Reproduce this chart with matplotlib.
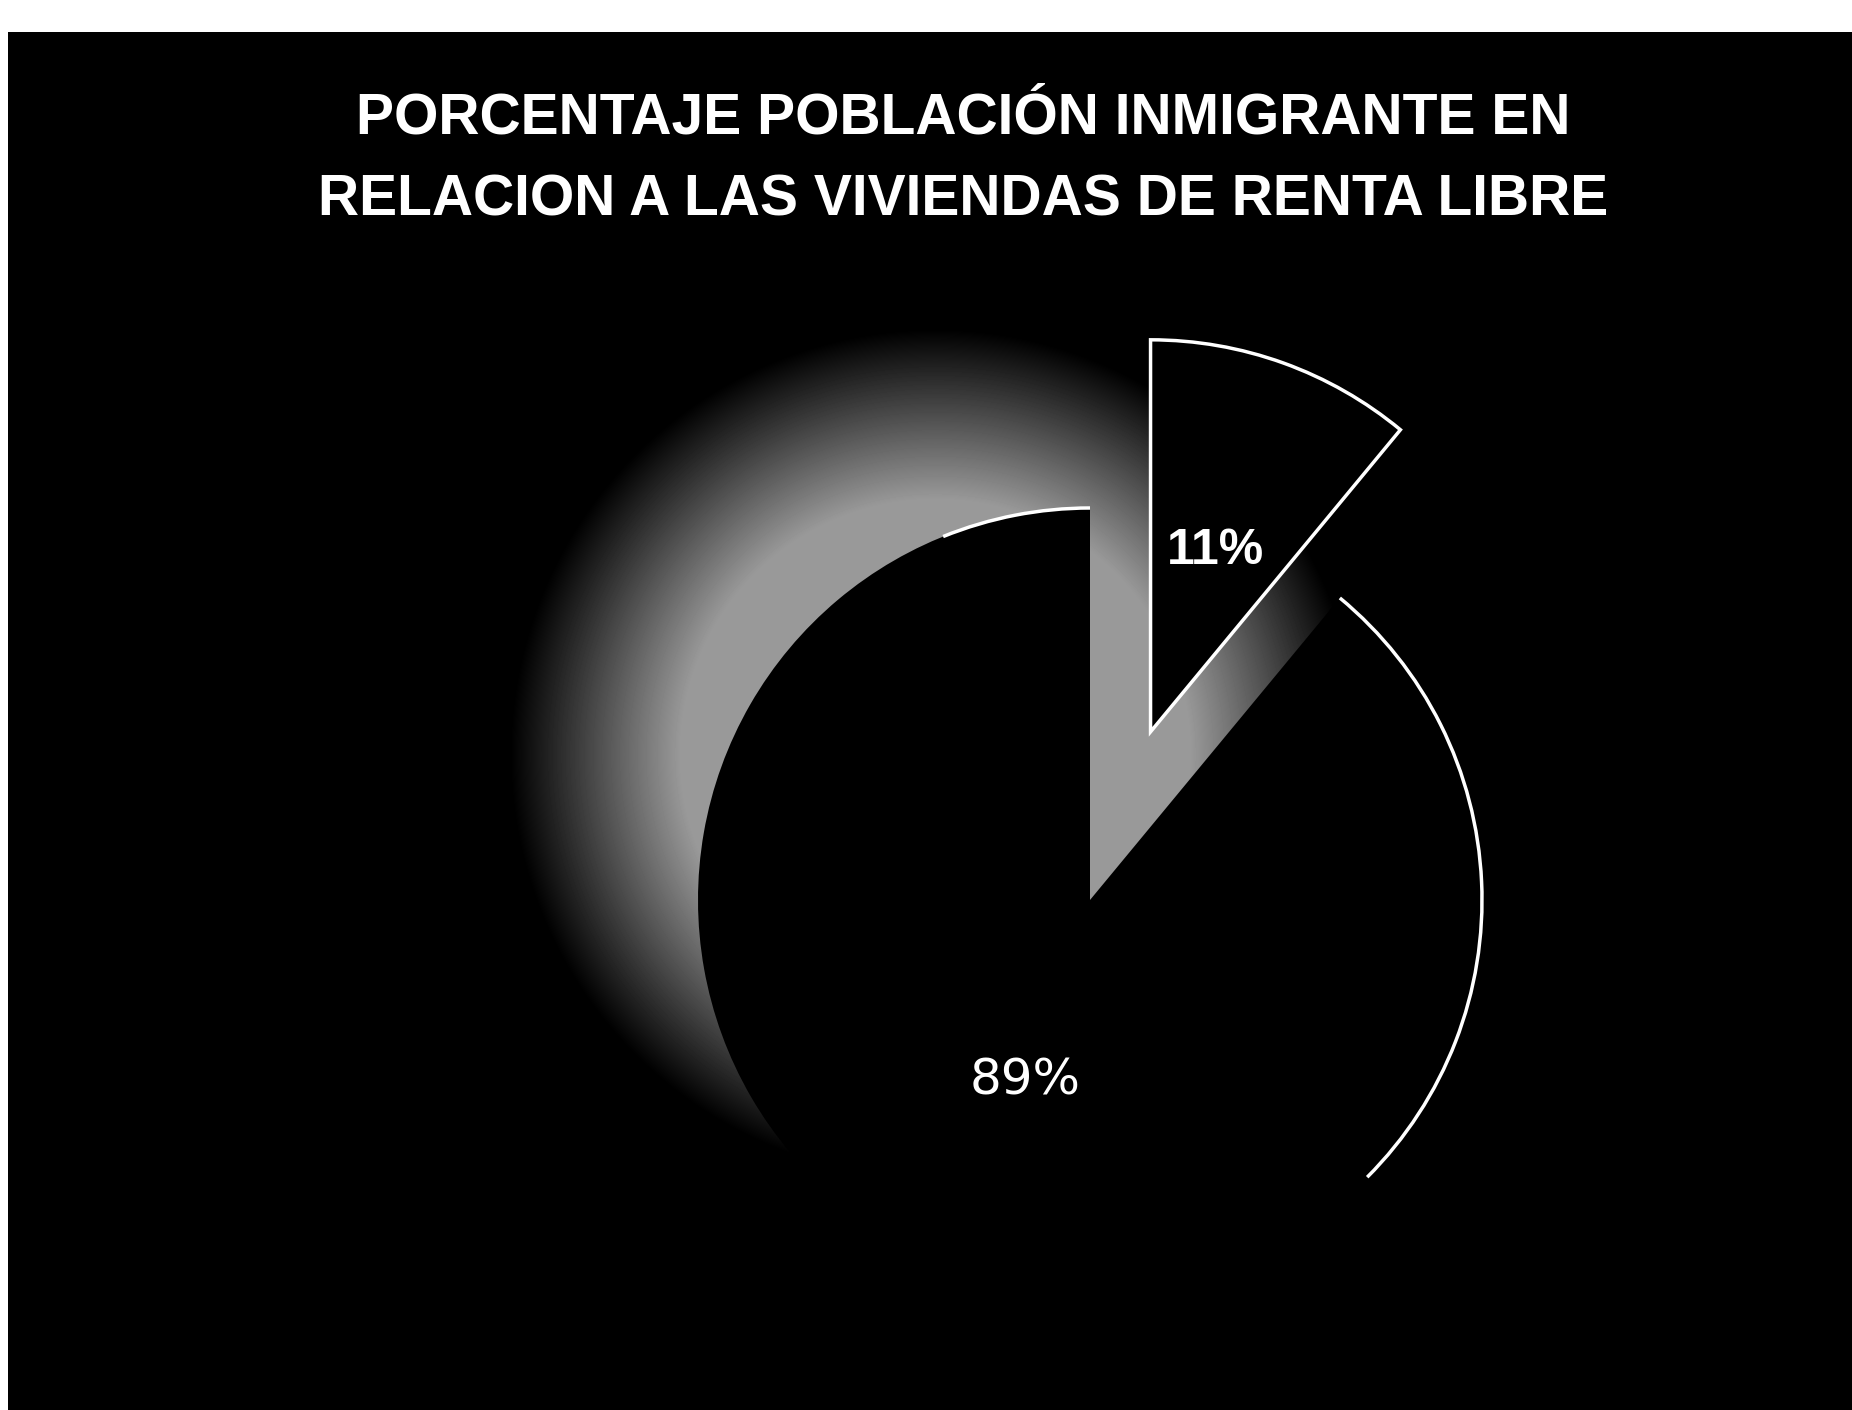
import numpy as np
import matplotlib.pyplot as plt
from matplotlib.patches import Arc

# ==================== DATA ====================
shares = [11, 89]           # % immigrant population / rest
explode_frac = [0.456, 0.0] # first slice pulled out
title_lines = ['PORCENTAJE POBLACIÓN INMIGRANTE EN',
               'RELACION A LAS VIVIENDAS DE RENTA LIBRE']

# ==================== LAYOUT (pixels) ====================
W, H = 1852, 1410
TOP, LEFT = 32, 8           # white scan border
cx, cy, r = 1090, H - 900, 392

fig = plt.figure(figsize=(W / 100, H / 100), dpi=100, facecolor='white')
ax = fig.add_axes([LEFT / W, 0, 1 - LEFT / W, (H - TOP) / H])
ax.set_facecolor('black')

# soft grey shadow showing at the upper-left of the pie
xx, yy = np.meshgrid(np.arange(LEFT, W), np.arange(0, H - TOP))
sx, sy, sr = 935, H - 755, 425
d = np.hypot(xx - sx, yy - sy)
glow = 0.6 * np.clip((sr - d) / 170, 0, 1)
ax.imshow(glow, cmap='gray', vmin=0, vmax=1, extent=(LEFT, W, 0, H - TOP),
          origin='lower', zorder=0, interpolation='bilinear')

wedges, texts, autotexts = ax.pie(
    shares, explode=[e * r for e in explode_frac], startangle=90,
    counterclock=False, center=(cx, cy), radius=r, frame=True,
    autopct='%1.0f%%', pctdistance=0.49,
    wedgeprops=dict(facecolor='black', edgecolor='white', linewidth=2.5),
    textprops=dict(color='white', fontsize=36))
autotexts[0].set_family('Liberation Sans')
autotexts[0].set_fontweight('bold')
autotexts[1].set_family('DejaVu Sans')

# the big slice only shows its outline on the lit right side
big = wedges[1]
big.set_edgecolor('none')
ax.add_patch(Arc(big.center, 2 * big.r, 2 * big.r, theta1=-45,
                 theta2=big.theta2, color='white', lw=2.5, zorder=3))
ax.add_patch(Arc(big.center, 2 * big.r, 2 * big.r, theta1=90,
                 theta2=112, color='white', lw=2.5, zorder=3))

ax.set_xlim(LEFT, W)
ax.set_ylim(0, H - TOP)
ax.set_aspect('auto')
ax.set_xticks([])
ax.set_yticks([])
for s in ax.spines.values():
    s.set_visible(False)

# title, two centred lines
for line, ypix in zip(title_lines, [133, 216]):
    fig.text(963 / W, 1 - ypix / H, line, ha='center', va='baseline',
             fontsize=41, fontweight='bold', color='white',
             family='Liberation Sans')

fig.savefig('out.png', dpi=100, facecolor='white')
